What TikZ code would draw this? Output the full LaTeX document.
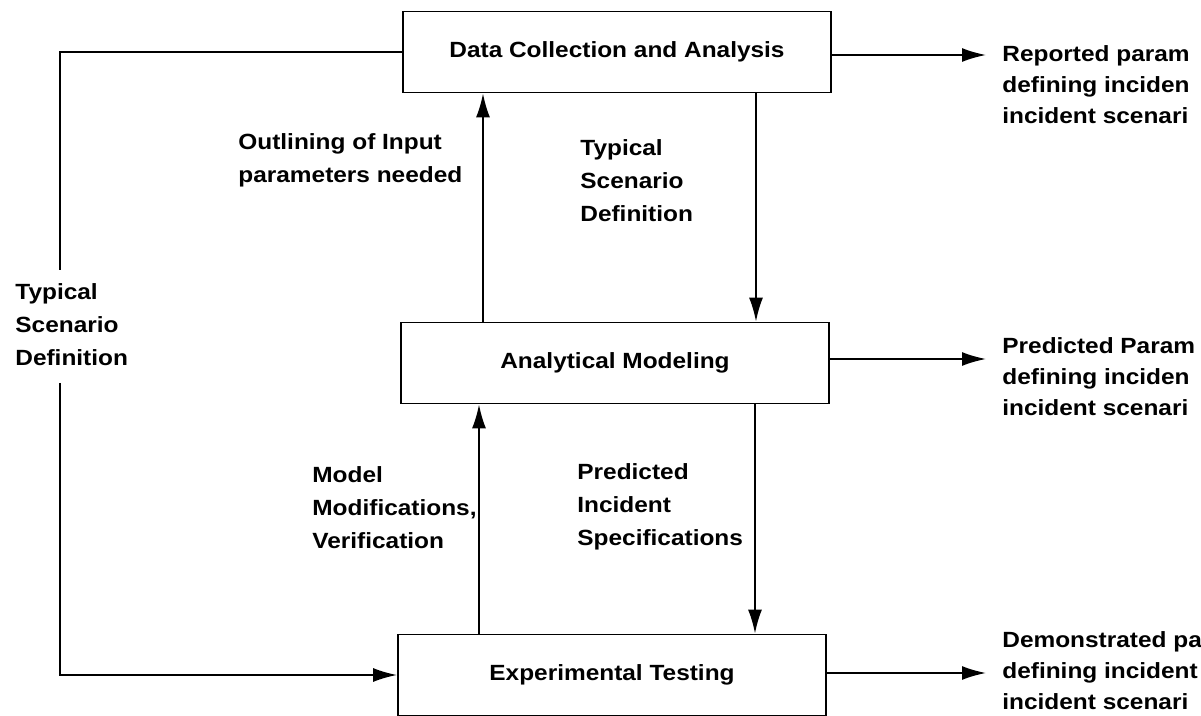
\documentclass[tikz,border=0pt]{standalone}
\usepackage{fontspec}
\setmainfont{Liberation Sans}[FakeStretch=1.11]
\usetikzlibrary{arrows.meta}
\begin{document}
\begin{tikzpicture}[x=0.5pt,y=-0.5pt,font=\bfseries\fontsize{11}{16.5}\selectfont,
	box/.style={draw,line width=0.9pt,minimum width=214pt,minimum height=40.5pt,inner sep=0pt},
	lbl/.style={align=left,inner sep=0pt,anchor=west},
	result/.style={lbl,font=\bfseries\fontsize{11}{15.5}\selectfont},
	line/.style={line width=0.9pt},
	arr/.style={line,-{Latex[length=12pt,width=7pt]}}]
	\useasboundingbox (0,0) rectangle (1201,716);
	% the three stages
	\node [box] (dc) at (617,52) {Data Collection and Analysis};
	\node [box] (am) at (615,363) {Analytical Modeling};
	\node [box] (et) at (612,675) {Experimental Testing};
	% labels between the stages
	\node [lbl] (oi) at (238,160) {Outlining of Input\\parameters needed};
	\node [lbl] (tsd) at (580,181) {Typical\\Scenario\\Definition};
	\node [lbl] (mm) at (312,508) {Model\\Modifications,\\Verification};
	\node [lbl] (pis) at (577,507) {Predicted\\Incident\\Specifications};
	\node [lbl] (tsl) at (15,325) {Typical\\Scenario\\Definition};
	% results on the right, cut at the edge as printed
	\node [result] (rp) at (1002,85) {Reported param\\defining inciden\\incident scenari};
	\node [result] (pp) at (1002,377) {Predicted Param\\defining inciden\\incident scenari};
	\node [result] (dp) at (1002,671) {Demonstrated pa\\defining incident\\incident scenari};
	% vertical connectors
	\draw [arr] ([xshift=-66pt]am.north) -- ([xshift=-66pt]am.north |- dc.south);
	\draw [arr] ([xshift=69.5pt]dc.south) -- ([xshift=69.5pt]dc.south |- am.north);
	\draw [arr] ([xshift=-66.5pt]et.north) -- ([xshift=-66.5pt]et.north |- am.south);
	\draw [arr] ([xshift=70pt]am.south) -- ([xshift=70pt]am.south |- et.north);
	% loop on the left, broken by its label
	\coordinate (lt) at (60,270);
	\coordinate (lb) at (60,383);
	\draw [line] (dc.west) -| (lt);
	\draw [arr] (lb) |- (et.west);
	% outputs
	\draw [arr,shorten >=8pt] ([yshift=-1.5pt]dc.east) -- ([yshift=-1.5pt]dc.east -| rp.west);
	\draw [arr,shorten >=8pt] ([yshift=2pt]am.east) -- ([yshift=2pt]am.east -| pp.west);
	\draw [arr,shorten >=8pt] ([yshift=1pt]et.east) -- ([yshift=1pt]et.east -| dp.west);
\end{tikzpicture}
\end{document}
